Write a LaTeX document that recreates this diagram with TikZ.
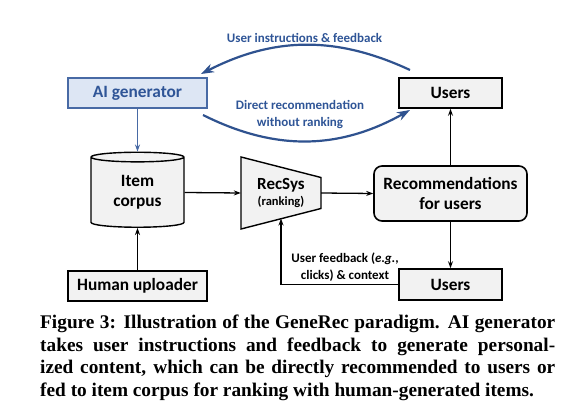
\documentclass[tikz,border=0pt]{standalone}
\usepackage{fontspec}
\setsansfont{Carlito}
\newfontfamily\capfont{Liberation Serif}
\usepackage{tikz}
\usetikzlibrary{arrows.meta,positioning,calc,shapes.geometric}
\definecolor{GenFill}{RGB}{221,230,244}
\definecolor{GenLine}{RGB}{72,106,165}
\definecolor{GenText}{RGB}{47,85,151}
\definecolor{LoopBlue}{RGB}{47,82,143}
\definecolor{BoxGray}{RGB}{242,242,242}
\tikzset{
  box/.style={draw=black,line width=1.6pt,fill=BoxGray,inner sep=0pt,
              font=\sffamily\bfseries\fontsize{17.3}{20}\selectfont},
  genbox/.style={box,draw=GenLine,fill=GenFill,text=GenText},
  dbase/.style={cylinder,shape border rotate=90,aspect=0.2,draw=black,
                line width=1.4pt,fill=BoxGray,inner sep=0pt,
                font=\sffamily\bfseries\fontsize{17.3}{20}\selectfont,align=center},
  flow/.style={-{Stealth[length=7pt,width=5pt]},line width=1.3pt},
  genflow/.style={-{Stealth[length=7pt,width=5pt]},line width=1.6pt,GenLine},
  loop/.style={-{Stealth[length=13pt,width=9pt]},line width=2.2pt,LoopBlue},
  lbl/.style={font=\sffamily\bfseries\fontsize{13}{17}\selectfont,align=center},
}

\begin{document}
\begin{tikzpicture}[x=1pt,y=1pt]
  \useasboundingbox[fill=white] (0,0) rectangle (583,407);
  % top row
  \node[genbox,minimum width=139pt,minimum height=30pt] (gen) at (137.5,314) {AI generator};
  \node[box,minimum width=103pt,minimum height=30pt] (usrtop) at (450.5,314) {Users};
  % middle row
  \node[dbase,minimum width=93pt,minimum height=75pt] (corpus) at (137.5,214.5) {Item\\corpus};
  \coordinate (rsc) at (281,214);
  \draw[line width=1.4pt,fill=BoxGray] ($(rsc)+(-40,36)$) -- ($(rsc)+(40,15.5)$)
    -- ($(rsc)+(40,-15.5)$) -- ($(rsc)+(-40,-36)$) -- cycle;
  \node[inner sep=0pt,minimum width=80pt,minimum height=72pt,align=center] (recsys) at (rsc)
    {{\sffamily\bfseries\fontsize{17}{18}\selectfont RecSys}\\[4pt]{\sffamily\bfseries\fontsize{12.5}{14}\selectfont(ranking)}};
  \node[box,rounded corners=8pt,minimum width=153pt,minimum height=55pt,align=center] (recs) at (450.5,213.5)
    {Recommendations\\for users};
  % bottom row
  \node[box,minimum width=139pt,minimum height=30pt] (human) at (137.5,121) {Human uploader};
  \node[box,minimum width=103pt,minimum height=31pt] (usrbot) at (450.5,122.5) {Users};
  % loop between generator and users
  \coordinate (ta) at (410,337);
  \coordinate (tb) at (201,333);
  \coordinate (ba) at (203,292);
  \coordinate (bb) at (410,297);
  \draw[loop] (ta) to[bend right=26] (tb);
  \draw[loop] (ba) to[bend right=28] (bb);
  \node[lbl,text=GenText] (instr) at (304.5,369) {User instructions \& feedback};
  \node[lbl,text=GenText] (direct) at (300,292.5) {Direct recommendation\\without ranking};
  % connectors
  \draw[genflow] (gen.south -| corpus.north) -- (corpus.north);
  \draw[flow] (human) -- (corpus);
  \draw[flow] (corpus.east) -- (recsys.west);
  \draw[flow] (recsys.east) -- (recs.west);
  \draw[flow] (recs) -- (usrtop);
  \draw[flow] (recs) -- (usrbot);
  \coordinate (fb) at (281,188.5);
  \draw[flow] (usrbot.west) -| (fb);
  \node[lbl] (fbtext) at (345,140)
    {User feedback (\textit{e.g.},\\clicks) \& context};
  % caption
  \node[anchor=north west,inner sep=0pt,text width=515pt,align=justify,
        font=\capfont\bfseries\fontsize{19.3}{22.5}\selectfont] (cap) at (40,92)
    {\spaceskip=0.25em plus 0.6em minus 0.14em\relax\parfillskip=0pt\relax
     Figure 3: Illustration of the GeneRec paradigm. AI generator\linebreak
     takes user instructions and feedback to generate personal-\linebreak
     ized content, which can be directly recommended to users or\linebreak
     fed to item corpus for ranking with human-generated items.};
\end{tikzpicture}
\end{document}
